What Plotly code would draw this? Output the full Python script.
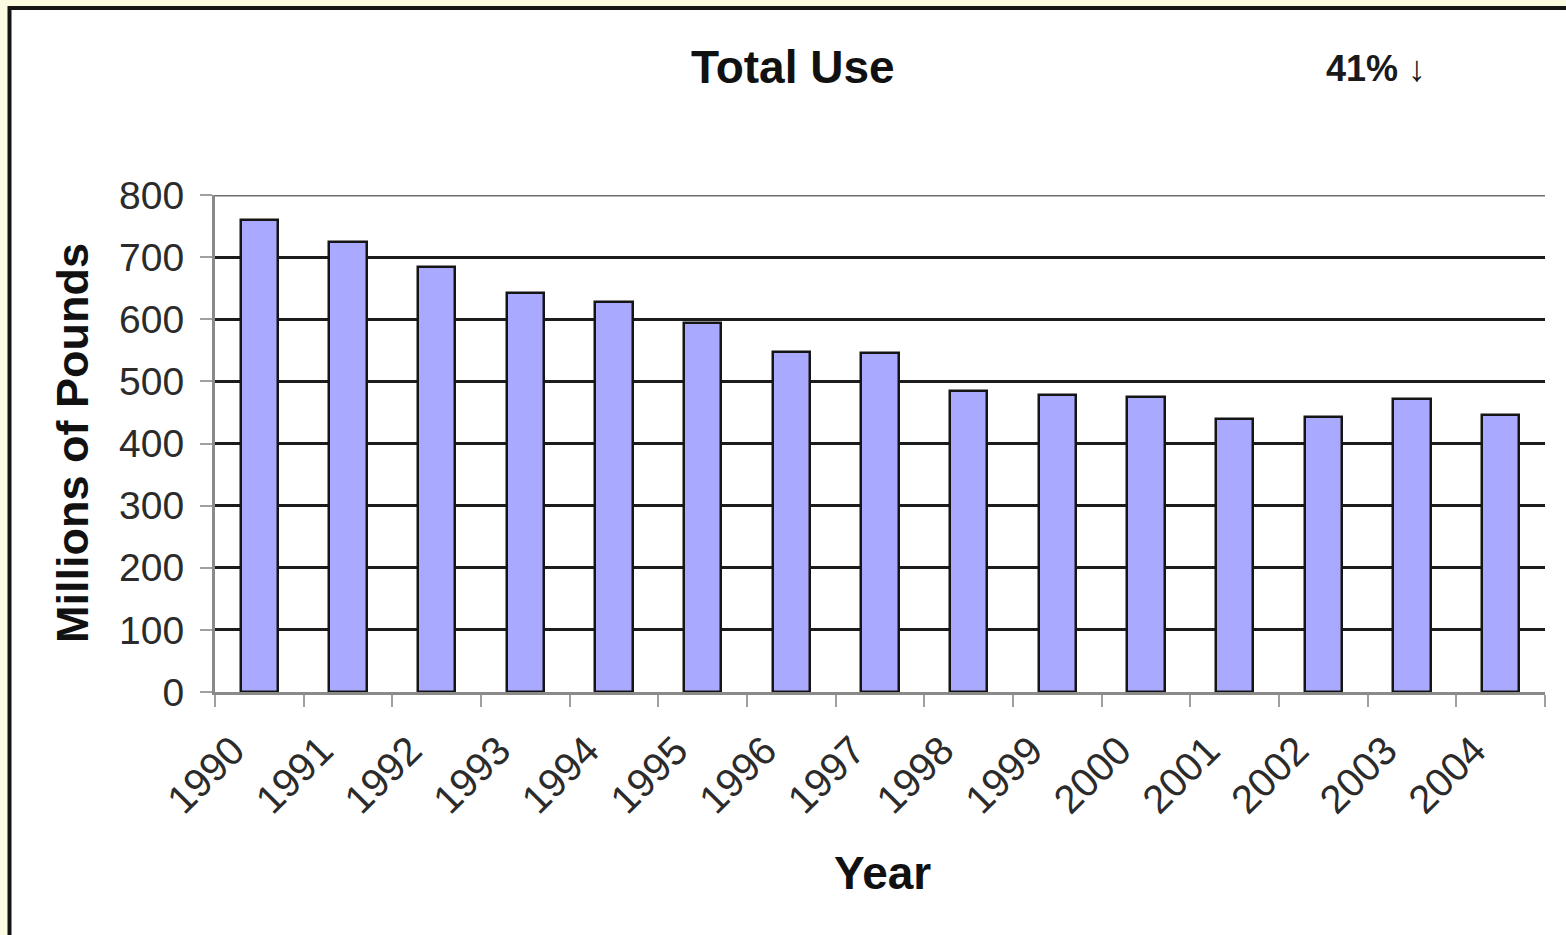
import plotly.graph_objects as go

# Annual pesticide use, millions of pounds
years = [1990, 1991, 1992, 1993, 1994, 1995, 1996, 1997,
         1998, 1999, 2000, 2001, 2002, 2003, 2004]
total_use = [760, 725, 684, 643, 627, 594, 547, 546,
             484, 478, 475, 440, 443, 472, 446]
tick_labels = [str(y) for y in years]
y_ticks = [0, 100, 200, 300, 400, 500, 600, 700, 800]

FIG_W, FIG_H = 1566, 935
L, R, T, B = 215, 21, 195, 243
PW, PH = FIG_W - L - R, FIG_H - T - B


def px(x):
    return (x - L) / PW


def py(y):
    return (FIG_H - B - y) / PH


fig = go.Figure()
fig.add_trace(go.Bar(
    x=years,
    y=total_use,
    width=0.42,
    marker=dict(color="#a9a9ff", line=dict(color="#151515", width=2.5)),
    showlegend=False,
))

fig.update_layout(
    width=FIG_W,
    height=FIG_H,
    margin=dict(l=L, r=R, t=T, b=B),
    paper_bgcolor="#fbfbe2",
    plot_bgcolor="#cbcbcb",
    bargap=0,
    font=dict(family="Liberation Sans, Arial, sans-serif", color="#2b2b2b"),
)

fig.update_xaxes(
    range=[years[0] - 0.5, years[-1] + 0.5],
    tickmode="array",
    tickvals=[y - 0.3 for y in years],
    ticktext=tick_labels,
    tickangle=-45,
    ticks="",
    ticklabelstandoff=16,
    tickfont=dict(size=40, color="#2b2b2b"),
    showgrid=False,
    showline=True,
    linecolor="#8a8a8a",
    linewidth=3,
    zeroline=False,
    minor=dict(
        tickmode="array",
        tickvals=[y - 0.5 for y in years] + [years[-1] + 0.5],
        ticks="outside",
        ticklen=12,
        tickwidth=2,
        tickcolor="#a0a0a0",
        showgrid=False,
    ),
)

fig.update_yaxes(
    range=[0, 800],
    tickmode="array",
    tickvals=y_ticks,
    ticktext=[str(v) for v in y_ticks],
    ticks="outside",
    ticklen=12,
    tickwidth=2,
    tickcolor="#a0a0a0",
    ticklabelstandoff=8,
    tickfont=dict(size=39, color="#2b2b2b"),
    showgrid=True,
    gridcolor="#1c1c1c",
    gridwidth=3,
    showline=True,
    linecolor="#8a8a8a",
    linewidth=3,
    zeroline=False,
)

# White card with a dark frame on the pale background
fig.add_shape(
    type="rect", xref="paper", yref="paper", layer="below",
    x0=px(9.5), x1=px(FIG_W + 20), y0=py(8), y1=py(FIG_H + 20),
    fillcolor="#ffffff", line=dict(color="#141414", width=4),
)

# Top gridline at 800 is lighter than the others
fig.add_shape(
    type="line", xref="paper", yref="y",
    x0=0, x1=1, y0=800, y1=800,
    line=dict(color="#6e6e6e", width=3),
)

title_font = dict(family="Liberation Sans, Arial, sans-serif", size=46, color="#111111")

fig.add_annotation(
    text="<b>Total Use</b>", xref="paper", yref="paper",
    x=px(793), y=py(67), showarrow=False, font=title_font,
    xanchor="center", yanchor="middle",
)
fig.add_annotation(
    text="<b>41% ↓</b>", xref="paper", yref="paper",
    x=px(1376), y=py(68), showarrow=False,
    font=dict(family="Liberation Sans, Arial, sans-serif", size=36, color="#1a1a1a"),
    xanchor="center", yanchor="middle",
)
fig.add_annotation(
    text="<b>Millions of Pounds</b>", xref="paper", yref="paper",
    x=px(72), y=py(443), showarrow=False, textangle=-90,
    font=dict(family="Liberation Sans, Arial, sans-serif", size=45, color="#111111"),
    xanchor="center", yanchor="middle",
)
fig.add_annotation(
    text="<b>Year</b>", xref="paper", yref="paper",
    x=px(882), y=py(873), showarrow=False, font=title_font,
    xanchor="center", yanchor="middle",
)

fig.write_html("out.html")
